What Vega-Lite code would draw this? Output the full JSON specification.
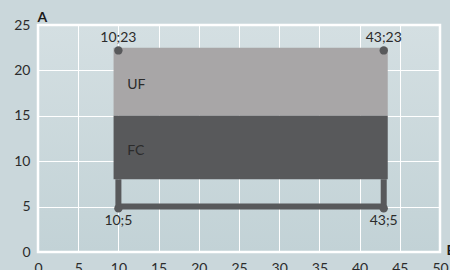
{
  "$schema": "https://vega.github.io/schema/vega-lite/v6.json",
  "width": 402,
  "height": 227,
  "autosize": {"type": "none"},
  "padding": {"left": 38, "top": 25, "right": 10, "bottom": 18},
  "background": "#cad7db",
  "config": {
    "view": {"stroke": "white", "strokeWidth": 2.5,
             "fill": {"gradient": "linear", "x1": 0, "y1": 0, "x2": 0, "y2": 1, "stops": [{"offset": 0, "color": "#d4dfe2"}, {"offset": 1, "color": "#c2d2d6"}]}},
    "font": "Lato",
    "axis": {
      "grid": true, "gridColor": "white", "gridWidth": 1, "gridOpacity": 1,
      "domain": false, "ticks": false,
      "labelFont": "Lato", "labelFontSize": 14, "labelColor": "#2b2b2b",
      "titleFont": "Lato", "titleFontSize": 14, "titleFontWeight": "bold", "titleColor": "#1a1a1a"
    }
  },
  "datasets": {
    "bands": [
      {"part": "UF", "x1": 9.4, "x2": 43.5, "y1": 15, "y2": 22.5},
      {"part": "FC", "x1": 9.4, "x2": 43.5, "y1": 8, "y2": 15}
    ],
    "frame": [
      {"o": 1, "x": 10, "y": 8},
      {"o": 2, "x": 10, "y": 5},
      {"o": 3, "x": 43, "y": 5},
      {"o": 4, "x": 43, "y": 8}
    ],
    "pts": [
      {"x": 10, "y": 22.2, "lab": "10;23", "pos": "top"},
      {"x": 43, "y": 22.2, "lab": "43;23", "pos": "top"},
      {"x": 10, "y": 4.8, "lab": "10;5", "pos": "bottom"},
      {"x": 43, "y": 4.8, "lab": "43;5", "pos": "bottom"}
    ],
    "names": [
      {"x": 11.1, "y": 18.4, "lab": "UF"},
      {"x": 11.1, "y": 11.1, "lab": "FC"}
    ]
  },
  "layer": [
    {
      "data": {"name": "bands"},
      "mark": {"type": "rect"},
      "encoding": {
        "x": {"field": "x1", "type": "quantitative", "scale": {"domain": [0, 50], "nice": false, "padding": 0, "zero": false},
              "axis": {"values": [0,5,10,15,20,25,30,35,40,45,50], "labelOverlap": false, "labelFlush": false, "labelPadding": 9, "title": "B", "titleX": 408, "titleY": 2, "titleAlign": "left", "titleBaseline": "alphabetic", "titleAnchor": null}},
        "x2": {"field": "x2"},
        "y": {"field": "y1", "type": "quantitative", "scale": {"domain": [0, 25], "nice": false, "padding": 0, "zero": false},
              "axis": {"values": [0,5,10,15,20,25], "labelOverlap": false, "labelFlush": false, "labelPadding": 8, "title": "A", "titleAngle": 0, "titleX": -1, "titleY": -4, "titleAlign": "left", "titleBaseline": "alphabetic"}},
        "y2": {"field": "y2"},
        "color": {"field": "part", "type": "nominal", "scale": {"domain": ["UF", "FC"], "range": ["#a8a6a7", "#58595b"]}, "legend": null}
      }
    },
    {
      "data": {"name": "frame"},
      "mark": {"type": "line", "color": "#58595b", "strokeWidth": 6, "strokeJoin": "miter", "strokeCap": "butt"},
      "encoding": {
        "x": {"field": "x", "type": "quantitative"},
        "y": {"field": "y", "type": "quantitative"},
        "order": {"field": "o"}
      }
    },
    {
      "data": {"name": "pts"},
      "mark": {"type": "circle", "color": "#58595b", "size": 70, "opacity": 1},
      "encoding": {
        "x": {"field": "x", "type": "quantitative"},
        "y": {"field": "y", "type": "quantitative"}
      }
    },
    {
      "data": {"name": "pts"},
      "transform": [{"filter": "datum.pos == 'top'"}],
      "mark": {"type": "text", "fontSize": 14, "color": "#2b2b2b", "baseline": "bottom", "dy": -5},
      "encoding": {
        "x": {"field": "x", "type": "quantitative"},
        "y": {"field": "y", "type": "quantitative"},
        "text": {"field": "lab"}
      }
    },
    {
      "data": {"name": "pts"},
      "transform": [{"filter": "datum.pos == 'bottom'"}],
      "mark": {"type": "text", "fontSize": 14, "color": "#2b2b2b", "baseline": "top", "dy": 6},
      "encoding": {
        "x": {"field": "x", "type": "quantitative"},
        "y": {"field": "y", "type": "quantitative"},
        "text": {"field": "lab"}
      }
    },
    {
      "data": {"name": "names"},
      "mark": {"type": "text", "fontSize": 14, "color": "#2b2b2b", "align": "left", "baseline": "middle"},
      "encoding": {
        "x": {"field": "x", "type": "quantitative"},
        "y": {"field": "y", "type": "quantitative"},
        "text": {"field": "lab"}
      }
    }
  ]
}
